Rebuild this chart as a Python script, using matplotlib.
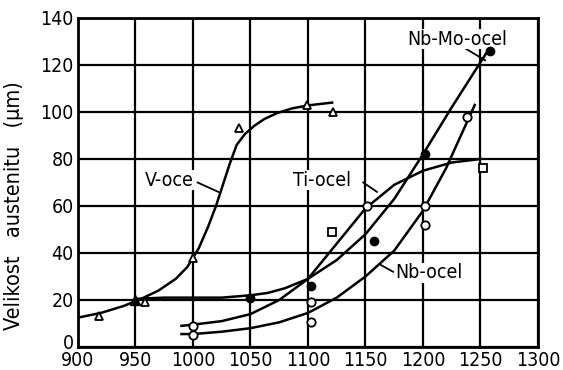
import matplotlib.pyplot as plt
from matplotlib import transforms

# measured points (temperature in C, grain size in um)
v_pts_x = [918, 958, 1000, 1040, 1099, 1122]
v_pts_y = [13, 19, 38, 93, 103, 100]
v_fill_x = [950]
v_fill_y = [20]
ti_pts_x = [1121, 1252]
ti_pts_y = [49, 76]
open_x = [1000, 1000, 1103, 1103, 1151, 1202, 1202, 1238]
open_y = [9, 5, 19, 10.5, 60, 60, 52, 98]
nbmo_pts_x = [1050, 1103, 1157, 1202, 1258]
nbmo_pts_y = [21, 26, 45, 82, 126]

# hand-drawn fitted curves
v_cx = [900, 920, 940, 955, 970, 985, 995, 1005, 1013, 1020, 1026, 1032, 1038, 1045, 1053, 1062, 1073, 1086, 1100, 1121]
v_cy = [12.5, 14.5, 17.5, 20.5, 24, 29, 34, 42, 51, 60, 69, 78, 86, 90.5, 94, 97, 99.5, 101.5, 102.8, 104]
ti_cx = [990, 1000, 1025, 1050, 1075, 1100, 1125, 1150, 1175, 1200, 1225, 1250]
ti_cy = [9, 9.5, 11, 14, 20, 29, 44, 59, 69, 75, 78.5, 80]
nb_cx = [990, 1000, 1025, 1050, 1075, 1100, 1125, 1150, 1175, 1200, 1220, 1245]
nb_cy = [5.5, 5.5, 6.5, 8, 10.5, 14.5, 21, 30, 41, 58, 76, 103]
nbmo_cx = [950, 975, 1000, 1025, 1050, 1065, 1080, 1100, 1125, 1150, 1175, 1200, 1225, 1255]
nbmo_cy = [20.5, 21, 21, 21, 22, 23, 25, 29, 37, 48, 63, 82, 102, 125]

xticks = [900, 950, 1000, 1050, 1100, 1150, 1200, 1250, 1300]
yticks = [0, 20, 40, 60, 80, 100, 120, 140]

plt.rcParams['font.family'] = ['DejaVu Sans']
plt.rcParams['font.stretch'] = 'condensed'

fig = plt.figure(figsize=(5.63, 3.70), dpi=100)
ax = fig.add_axes([0.1385, 0.0622, 0.8171, 0.8892])

# curves
for cx, cy in [(v_cx, v_cy), (ti_cx, ti_cy), (nb_cx, nb_cy), (nbmo_cx, nbmo_cy)]:
    ax.plot(cx, cy, color='black', lw=1.8, zorder=3)

# markers
ax.plot(v_pts_x, v_pts_y, '^', ms=6, mfc='white', mec='black', mew=1.3, zorder=4)
ax.plot(v_fill_x, v_fill_y, '^', ms=7, mfc='black', mec='black', zorder=4)
ax.plot(ti_pts_x, ti_pts_y, 's', ms=6, mfc='white', mec='black', mew=1.3, zorder=4)
ax.plot(open_x, open_y, 'o', ms=6, mfc='white', mec='black', mew=1.3, zorder=4)
ax.plot(nbmo_pts_x, nbmo_pts_y, 'o', ms=6, mfc='black', mec='black', zorder=4)

# curve labels with leaders
lab = dict(va='center', fontsize=14,
           bbox=dict(facecolor='white', edgecolor='none', pad=0.5))
ax.text(1001, 71, 'V-oce', ha='right', **lab)
ax.plot([1004, 1022], [70, 66], color='black', lw=1.3)
ax.text(1087, 71, 'Ti-ocel', ha='left', **lab)
ax.plot([1148, 1160], [70, 66], color='black', lw=1.3)
ax.text(1176, 31.5, 'Nb-ocel', ha='left', **lab)
ax.plot([1174, 1163], [32, 35], color='black', lw=1.3)
ax.text(1230, 131, 'Nb-Mo-ocel', ha='center', **lab)
ax.plot([1237, 1254], [127, 122], color='black', lw=1.3)

ax.set_xlim(900, 1300)
ax.set_ylim(0, 140)
ax.set_xticks(xticks)
ax.set_yticks(yticks)
ax.tick_params(length=0, labelsize=14, pad=3)
# lift the "0" a little so it clears the x labels
ylabs = ax.get_yticklabels()
ylabs[0].set_transform(ylabs[0].get_transform() + transforms.ScaledTranslation(0, 4 / 72, fig.dpi_scale_trans))
ax.grid(True, color='black', lw=1.6)
for s in ax.spines.values():
    s.set_linewidth(2)
ax.set_ylabel('Velikost   austenitu   (\u00b5m)', fontsize=15.5)
ax.yaxis.set_label_coords(-0.118, 0.43)

plt.savefig('out.png', dpi=100)
